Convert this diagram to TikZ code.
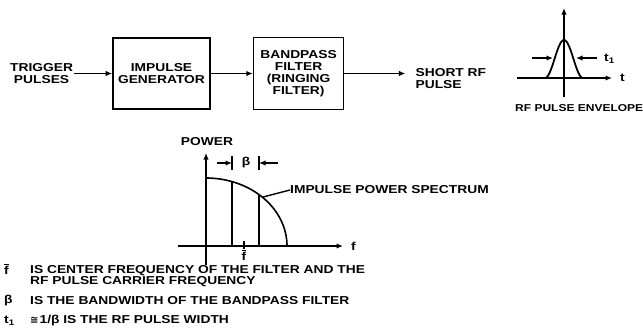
\documentclass[tikz,border=0pt]{standalone}
\usepackage{fontspec}
\setmainfont{Liberation Sans}[FakeStretch=1.2]
\newfontfamily\symfam{DejaVu Sans}
\usetikzlibrary{arrows.meta,positioning}
\tikzset{
  sig/.style={-{Latex[length=6.5pt,width=5.5pt]}, line width=1.4pt},
  plain/.style={line width=1.4pt},
  block/.style={draw, line width=1.6pt, align=center, minimum width=97pt,
    minimum height=71pt, inner sep=2pt},
  tag/.style={align=center, inner sep=1pt},
  key/.style={anchor=west, align=left, inner sep=0pt}
}

\begin{document}
\begin{tikzpicture}[x=1pt, y=-1pt, font=\bfseries\fontsize{11.5}{12.5}\selectfont]
  \useasboundingbox (0,0) rectangle (643,333);
  % block diagram
  \node[block] (gen) at (161.5,73.5) {IMPULSE\\GENERATOR};
  \node[block, minimum width=90pt, minimum height=72pt, right=42pt of gen,
    font=\bfseries\fontsize{11.5}{11.8}\selectfont] (filt)
    {BANDPASS\\FILTER\\(RINGING\\FILTER)};
  \node[tag, left=38pt of gen] (trig) {TRIGGER\\PULSES};
  \node[tag, align=left, right=70pt of filt.east, anchor=west, yshift=-5pt] (out)
    {SHORT RF\\PULSE};
  \draw[sig] (trig.east) -- (gen.west);
  \draw[sig] (gen) -- (filt);
  \draw[sig] (filt.east) -- ([xshift=-9pt]filt.east -| out.west);

  % pulse envelope
  \draw[sig] (564,97) -- (564,8);
  \draw[sig] (517,78) -- (612,78) node[right=4pt] (tax) {t};
  \draw[line width=1.8pt] plot[domain=545:583, samples=50]
    (\x,{78-19*(1+cos(180*(\x-564)/19))});
  \coordinate (wl) at (553,58);
  \coordinate (wr) at (576,58);
  \draw[sig] (532,58) -- (wl);
  \draw[sig] (597,58) -- (wr);
  \node[key] (tw) at (604,59) {t\textsubscript{1}};
  \node[key, font=\bfseries\fontsize{10}{12}\selectfont] (env) at (515,108)
    {RF PULSE ENVELOPE};

  % power spectrum
  \draw[sig] (178,246) -- (343,246) node[right=4pt] (fax) {f};
  \draw[sig] (206,265) -- (206,153);
  \node[tag] (pow) at (207,142) {POWER};
  \draw[line width=1.6pt] plot[domain=0:90, samples=50]
    ({206+81*cos(\x)},{246-68*sin(\x)});
  \foreach \xx in {232,259}
    \draw[plain] (\xx,246) -- (\xx,{246-68*sqrt(1-((\xx-206)/81)^2)});
  \draw[plain] (244,241) -- (244,249);
  \node[tag, inner sep=0pt] (fbar) at (244,255) {$\overline{\hbox{\bfseries f}}$};
  \draw[sig] (217,163) -- (232,163);
  \draw[plain] (232,156) -- (232,170);
  \node[tag] (bw) at (246,163) {β};
  \draw[plain] (259,156) -- (259,170);
  \draw[sig] (278,163) -- (259,163);
  \node[key] (spec) at (290,190) {IMPULSE POWER SPECTRUM};
  \coordinate (hit) at (263,197);
  \draw[plain] (spec.west) -- (hit);

  % legend
  \node[key] (k1) at (4,269) {$\overline{\hbox{\bfseries f}}$};
  \node[key, font=\bfseries\fontsize{11.5}{10}\selectfont] (d1) at (30,276)
    {IS CENTER FREQUENCY OF THE FILTER AND THE\\RF PULSE CARRIER FREQUENCY};
  \node[key] (k2) at (4,301) {β};
  \node[key] (d2) at (30,301) {IS THE BANDWIDTH OF THE BANDPASS FILTER};
  \node[key] (k3) at (4,321) {t\textsubscript{1}};
  \node[key] (d3) at (30,321) {{\symfam\fontsize{10}{10}\selectfont ≅}\kern1pt1/β IS THE RF PULSE WIDTH};
\end{tikzpicture}
\end{document}
